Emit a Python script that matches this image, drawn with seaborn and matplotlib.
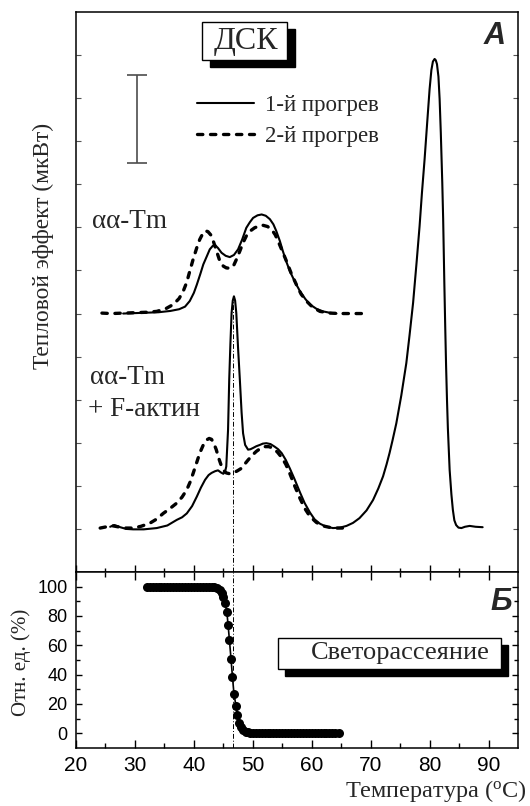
import numpy as np
import pandas as pd
import matplotlib
matplotlib.use("Agg")
import matplotlib.pyplot as plt
import seaborn as sns
from matplotlib.lines import Line2D
from matplotlib.patches import Rectangle
import matplotlib.transforms as mtransforms

# ---------------- DATA ----------------
# upper curves: alpha-alpha Tm (offset baseline 6)
t_up_1 = [28.0, 30, 32, 34, 36, 37.5, 38.5, 39.3, 40.0, 40.5, 41.1, 41.6, 42.2, 42.7, 43.2, 43.6,
          44.1, 44.7, 45.4, 46.1, 46.8, 47.5, 48.2, 48.9, 49.5, 50.05, 50.8, 51.5, 52.2, 52.9,
          53.5, 54.0, 54.6, 55.1, 55.7, 56.3, 57.2, 58.0, 58.9, 59.7, 60.8, 61.9, 63.0, 64.2]
v_up_1 = [6.0, 6.01, 6.02, 6.03, 6.06, 6.1, 6.16, 6.29, 6.48, 6.67, 6.92, 7.14, 7.33, 7.49, 7.57, 7.59,
          7.52, 7.41, 7.34, 7.31, 7.36, 7.49, 7.72, 7.99, 8.12, 8.22, 8.28, 8.30, 8.27, 8.19,
          8.07, 7.91, 7.68, 7.45, 7.2, 6.98, 6.72, 6.52, 6.34, 6.21, 6.11, 6.05, 6.02, 6.0]

t_up_2 = [24.4, 26, 28, 30, 32, 33.7, 35.2, 36.5, 37.5, 38.2, 38.8, 39.3, 39.9, 40.5, 41.0, 41.6,
          42.0, 42.4, 42.9, 43.3, 43.9, 44.4, 45.0, 45.5, 46.1, 46.7, 47.2, 47.8, 48.3, 48.9,
          49.6, 50.3, 51.0, 51.7, 52.5, 53.2, 53.8, 54.3, 55.0, 55.7, 56.5, 57.4, 58.2, 59.1,
          60.2, 61.4, 63.1, 65, 67, 69.3]
v_up_2 = [6.01, 6.0, 6.01, 6.02, 6.03, 6.05, 6.11, 6.21, 6.35, 6.52, 6.73, 6.98, 7.27, 7.53, 7.72, 7.88,
          7.92, 7.9, 7.82, 7.68, 7.43, 7.22, 7.1, 7.06, 7.05, 7.10, 7.25, 7.45, 7.63, 7.80,
          7.92, 7.99, 8.03, 8.05, 8.02, 7.95, 7.83, 7.68, 7.45, 7.22, 6.94, 6.67, 6.45, 6.29,
          6.14, 6.05, 6.01, 6.0, 6.0, 6.0]

# lower curves: alpha-alpha Tm + F-actin (baseline 1)
t_lo_1 = [25.8, 26.5, 27.5, 28.5, 29.7, 31.5, 33.7, 35.5, 37.1, 38.0, 38.8, 39.7, 40.5, 41.2, 41.9,
          42.5, 43.0, 43.6, 44.1, 44.6, 45.0, 45.3, 45.5, 45.8, 46.0, 46.2, 46.4, 46.6, 46.8, 47.0,
          47.2, 47.5, 47.8, 48.1, 48.35, 48.7, 49.2, 49.6, 50.05, 50.6, 51.2, 51.7, 52.3, 53.0,
          53.7, 54.3, 54.9, 55.6, 56.3, 57.1, 58.0, 58.8, 59.7, 60.5, 61.4, 62.5, 63.6, 64.8,
          65.9, 67.0, 68.1, 69.3, 70.4, 71.3, 72.1, 72.7, 73.2, 73.7, 74.35, 75.2, 76.05, 76.6,
          77.2, 77.8, 78.3, 78.7, 79.15, 79.6, 80.0, 80.3, 80.56, 80.85, 81.05, 81.25, 81.5,
          81.7, 81.9, 82.15, 82.3, 82.5, 82.65, 82.8, 82.95, 83.1, 83.4, 83.7, 83.95, 84.2,
          84.5, 84.9, 85.4, 86.0, 86.8, 87.8, 89.0]
v_lo_1 = [1.05, 1.09, 1.04, 1.0, 0.99, 0.99, 1.02, 1.08, 1.21, 1.27, 1.36, 1.53, 1.75, 1.96, 2.14,
          2.25, 2.30, 2.34, 2.36, 2.31, 2.28, 2.33, 2.45, 3.3, 4.47, 5.3, 6.01, 6.3, 6.40, 6.3,
          6.01, 5.2, 4.47, 3.7, 3.22, 2.95, 2.84, 2.85, 2.88, 2.92, 2.95, 2.98, 2.99, 2.97,
          2.91, 2.85, 2.76, 2.6, 2.40, 2.15, 1.85, 1.6, 1.38, 1.22, 1.12, 1.05, 1.02, 1.03,
          1.07, 1.14, 1.25, 1.43, 1.67, 1.94, 2.22, 2.5, 2.76, 3.05, 3.45, 4.1, 4.85, 5.5,
          6.25, 7.2, 8.03, 8.8, 9.58, 10.45, 11.21, 11.65, 11.85, 11.91, 11.88, 11.79, 11.5,
          10.98, 10.2, 9.04, 8.2, 6.71, 5.7, 4.77, 4.0, 3.34, 2.37, 1.8, 1.44, 1.2,
          1.09, 1.03, 1.02, 1.05, 1.07, 1.05, 1.04]

t_lo_2 = [24.1, 25.2, 26.3, 27.5, 28.5, 29.7, 31.0, 32.5, 33.7, 34.8, 36.0, 37.1, 38.0, 38.8, 39.4,
          39.9, 40.5, 41.0, 41.6, 42.2, 42.6, 43.0, 43.4, 43.8, 44.2, 44.7, 45.1, 45.5, 46.1,
          46.7, 47.4, 48.1, 48.6, 49.2, 49.9, 50.6, 51.3, 52.0, 52.7, 53.4, 54.2, 54.9, 55.6,
          56.3, 57.1, 58.0, 58.8, 59.7, 60.8, 61.9, 63.6, 65.9]
v_lo_2 = [1.02, 1.05, 1.07, 1.04, 1.02, 1.02, 1.06, 1.13, 1.23, 1.36, 1.48, 1.60, 1.74, 1.91, 2.1,
          2.30, 2.55, 2.76, 2.95, 3.07, 3.1, 3.08, 2.98, 2.84, 2.65, 2.45, 2.35, 2.30, 2.28,
          2.30, 2.35, 2.41, 2.5, 2.60, 2.71, 2.80, 2.87, 2.91, 2.91, 2.88, 2.78, 2.66, 2.5,
          2.28, 2.0, 1.71, 1.48, 1.29, 1.15, 1.07, 1.02, 1.02]

# light scattering (%)
t_ls = [32.0, 32.5, 33.0, 33.5, 34.0, 34.5, 35.0, 35.5, 36.0, 36.5, 37.0, 37.5, 38.0, 38.5,
        39.0, 39.5, 40.0, 40.5, 41.0, 41.5, 42.0, 42.5, 43.0, 43.5, 44.0, 44.4, 44.7, 44.97,
        45.3, 45.6, 45.8, 46.04, 46.3, 46.55, 46.8, 47.15, 47.4, 47.7, 48.0, 48.4, 48.8, 49.2,
        49.6, 50.0, 50.5, 51.0, 51.5, 52.0, 52.5, 53.0, 53.5, 54.0, 54.5, 55.0, 55.5, 56.0,
        56.5, 57.0, 57.5, 58.0, 58.5, 59.0, 59.5, 60.0, 60.5, 61.0, 61.5, 62.0, 62.5, 63.0,
        63.5, 64.0, 64.6]
v_ls = [100, 100, 100, 100, 100, 100, 100, 100, 100, 100, 100, 100, 100, 100,
        100, 100, 100, 100, 100, 100, 100, 100, 100, 99.7, 99.0, 97.5, 95.5, 92.8,
        88.7, 82.6, 74.2, 63.3, 50.9, 38.5, 27.1, 18.6, 12.2, 7.2, 4.5, 2.3, 1.2, 0.6,
        0.3, 0.1, 0, 0, 0, 0, 0, 0, 0, 0, 0, 0, 0, 0,
        0, 0, 0, 0, 0, 0, 0, 0, 0, 0, 0, 0, 0, 0,
        0, 0, 0]

x_major = [20, 30, 40, 50, 60, 70, 80, 90]
ls_yticks = [0, 20, 40, 60, 80, 100]
legend_labels = ["1-й прогрев", "2-й прогрев"]
t_transition = 46.7

# ---------------- STYLE ----------------
sns.set_style("ticks")
plt.rcParams.update({
    'font.family': ['Liberation Sans', 'DejaVu Sans'],
    'axes.edgecolor': 'black',
    'axes.linewidth': 1.1,
    'xtick.color': 'black',
    'ytick.color': 'black',
    'mathtext.fontset': 'custom',
    'mathtext.rm': 'Liberation Serif',
    'mathtext.it': 'Liberation Serif:italic',
})
SERIF = ['Liberation Serif', 'DejaVu Serif']
DASH = (0, (1.6, 2.3))

fig = plt.figure(figsize=(5.3, 8.06), dpi=100)
ax1 = fig.add_axes([76/530, 1-572/806, 442/530, 560/806])
ax2 = fig.add_axes([76/530, 1-748/806, 442/530, 176/806])

# ---------------- TOP PANEL ----------------
def draw(ax, t, v, dashed, lw):
    df = pd.DataFrame({'T': t, 'v': v})
    sns.lineplot(data=df, x='T', y='v', ax=ax, color='black', lw=lw, sort=False,
                 estimator=None)
    ln = ax.get_lines()[-1]
    if dashed:
        ln.set_linestyle(DASH)
        ln.set_dash_capstyle('round')

draw(ax1, t_up_2, v_up_2, True, 2.4)
draw(ax1, t_up_1, v_up_1, False, 1.5)
draw(ax1, t_lo_2, v_lo_2, True, 2.4)
draw(ax1, t_lo_1, v_lo_1, False, 1.5)

ax1.axvline(t_transition, ymin=0, ymax=6.35/13, color='black', lw=0.7, ls=(0, (5, 2, 1, 2)))

ax1.set_xlim(20, 95)
ax1.set_ylim(0, 13)
ax1.set_xticks(x_major)
ax1.set_xticks(np.arange(25, 95, 10), minor=True)
ax1.set_yticks(np.arange(1, 13))
ax1.tick_params(axis='x', which='major', direction='in', length=5, width=1.0,
                bottom=True, top=False, labelbottom=False)
ax1.tick_params(axis='x', which='minor', direction='in', length=3, width=1.0,
                bottom=True, top=False)
ax1.tick_params(axis='y', which='major', direction='in', length=3.5, width=0.8,
                left=True, right=True, labelleft=False, color='#555555')
ax1.set_xlabel('')
ax1.set_ylabel('')

# scale bar
ax1.errorbar([30.3], [10.51], yerr=[[1.02], [1.02]], fmt='none', ecolor='#4d4d4d',
             elinewidth=1.2, capsize=7.5, capthick=1.2)

# legend
handles = [Line2D([], [], color='black', lw=1.5),
           Line2D([], [], color='black', lw=2.4, ls=DASH, dash_capstyle='round')]
ax1.legend(handles, legend_labels, loc='upper left', bbox_to_anchor=(0.274, 0.851),
           frameon=False, handlelength=2.5, handletextpad=0.45, labelspacing=0.42,
           borderaxespad=0, borderpad=0, prop={'family': SERIF, 'size': 16.5})

# shadowed boxes
def shadow_box(ax, x, y, w, h, dx=8, dy=-7):
    off = mtransforms.ScaledTranslation(dx/100, dy/100, fig.dpi_scale_trans)
    ax.add_patch(Rectangle((x, y), w, h, transform=ax.transAxes + off, fc='black',
                           ec='black', lw=1, zorder=5, clip_on=False))
    ax.add_patch(Rectangle((x, y), w, h, transform=ax.transAxes, fc='white',
                           ec='black', lw=1, zorder=6, clip_on=False))

shadow_box(ax1, 0.285, 0.914, 0.192, 0.068)
ax1.text(0.3835, 0.947, "ДСК", transform=ax1.transAxes, ha='center', va='center',
         family=SERIF, fontsize=23, zorder=7)
ax1.text(0.946, 0.957, "A", transform=ax1.transAxes, ha='center', va='center',
         fontsize=22, fontweight='bold', fontstyle='italic', family=['Liberation Sans'])

ax1.text(22.7, 8.14, "αα-Tm", ha='left', va='center', family=SERIF, fontsize=19.5)
ax1.text(22.3, 4.51, "αα-Tm", ha='left', va='center', family=SERIF, fontsize=19.5)
ax1.text(22.0, 3.77, "+ F-актин", ha='left', va='center', family=SERIF, fontsize=19.5)

# ---------------- BOTTOM PANEL ----------------
df_ls = pd.DataFrame({'T': t_ls, 'v': v_ls})
sns.lineplot(data=df_ls, x='T', y='v', ax=ax2, color='black', lw=1.2, sort=False,
             estimator=None, marker='o', markersize=6.5, markeredgewidth=0)
ax2.axvline(t_transition, color='black', lw=0.7, ls=(0, (5, 2, 1, 2)))

ax2.set_xlim(20, 95)
ax2.set_ylim(-10, 110)
ax2.set_xticks(x_major)
ax2.set_xticks(np.arange(25, 95, 10), minor=True)
ax2.set_yticks(ls_yticks)
ax2.set_yticks([10, 30, 50, 70, 90], minor=True)
ax2.tick_params(axis='x', which='major', direction='in', length=5.5, width=1.0,
                bottom=True, top=True, labelsize=15, pad=6)
ax2.tick_params(axis='x', which='minor', direction='in', length=3.5, width=1.0,
                bottom=True, top=True)
ax2.tick_params(axis='y', which='major', direction='in', length=4.5, width=1.0,
                left=True, right=True, labelsize=13, pad=6)
ax2.tick_params(axis='y', which='minor', direction='in', length=3, width=1.0,
                left=True, right=True)
ax2.set_xlabel('')
ax2.set_ylabel('')

shadow_box(ax2, 0.457, 0.449, 0.5045, 0.176, dx=7, dy=-7)
ax2.text(0.733, 0.54, "Светорассеяние", transform=ax2.transAxes, ha='center', va='center',
         family=SERIF, fontsize=19, zorder=7)
ax2.text(0.9615, 0.83, "Б", transform=ax2.transAxes, ha='center', va='center',
         fontsize=22, fontweight='bold', fontstyle='italic', family=['Liberation Sans'])

# axis labels
fig.text(43/530, 1-246/806, "Тепловой эффект (мкВт)", rotation=90, ha='center',
         va='center', family=SERIF, fontsize=16.8)
fig.text(21/530, 1-662/806, "Отн. ед. (%)", rotation=90, ha='center', va='center',
         family=SERIF, fontsize=15)
fig.text(527/530, 1-791/806, r"Температура ($^{\rm o}$C)", ha='right', va='center',
         family=SERIF, fontsize=17.5)

fig.savefig("out.png", dpi=100)
